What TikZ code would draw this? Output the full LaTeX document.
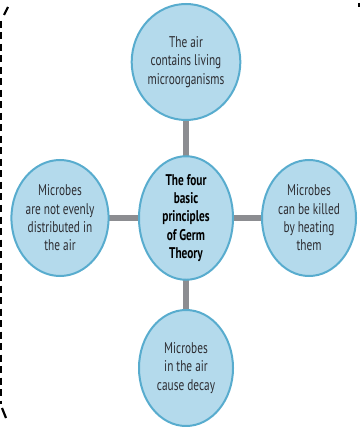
\documentclass[tikz,border=0pt]{standalone}
\usetikzlibrary{shapes.geometric}
\usepackage{fontspec}
\setmainfont{PT Sans}[FakeStretch=0.73]
\begin{document}
\begin{tikzpicture}[x=1pt,y=-1pt,
  bubble/.style={ellipse, draw=bubbleedge, fill=bubblefill, line width=2pt,
    minimum width=94pt, minimum height=116pt, inner sep=0pt,
    align=center, font=\fontsize{15.5}{18.3}\selectfont, text=textgray},
  link/.style={draw=linkgray, line width=5.5pt}]
  \definecolor{bubblefill}{RGB}{180,218,236}
  \definecolor{bubbleedge}{RGB}{88,172,206}
  \definecolor{linkgray}{RGB}{140,141,145}
  \definecolor{textgray}{RGB}{45,45,50}
  \useasboundingbox (0,0) rectangle (361,427);
  % connectors behind the bubbles
  \coordinate (hub) at (186,218);
  \coordinate (n) at (186,62);
  \coordinate (s) at (186,368);
  \coordinate (w) at (60,218);
  \coordinate (e) at (309,218);
  \draw[link] (n) -- (s);
  \draw[link] (w) -- (e);
  % bubbles
  \node[bubble] (top) at (n) {The air\\contains living\\microorganisms};
  \node[bubble] (left) at (w) {Microbes\\are not evenly\\distributed in\\the air};
  \node[bubble] (right) at (e) {Microbes\\can be killed\\by heating\\them};
  \node[bubble] (bottom) at (s) {Microbes\\in the air\\cause decay};
  \node[bubble, font=\bfseries\fontsize{15.5}{18.3}\selectfont, text=black] (center) at (hub)
    {The four\\basic\\principles\\of Germ\\Theory};
  % dashed margin line on the left
  \draw[line width=2.2pt, dash pattern=on 7pt off 4.5pt] (1.2,21) -- (1.2,404);
  \draw[line width=2.2pt] (4,15) -- (8,7);
  \draw[line width=2.2pt] (2,408) -- (6,418);
  \draw[line width=1.5pt] (359,3) -- (359,7);
\end{tikzpicture}
\end{document}
